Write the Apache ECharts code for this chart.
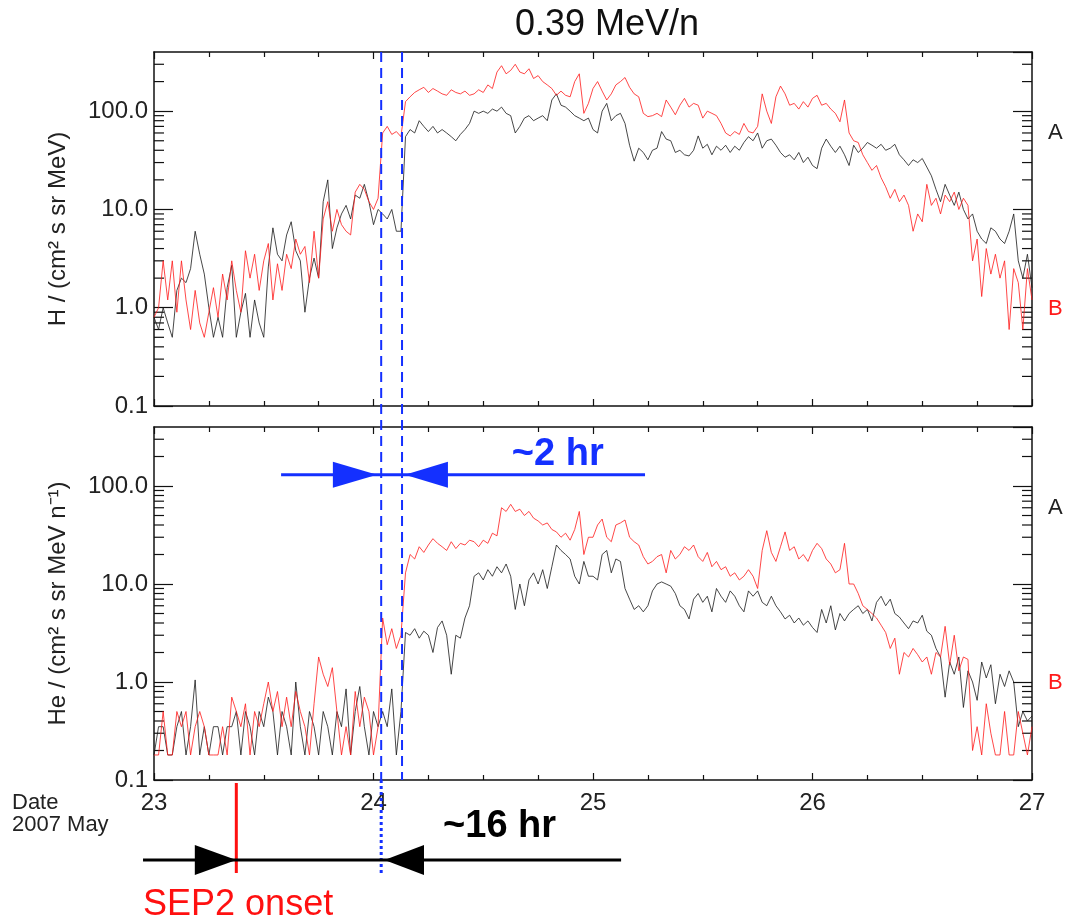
<!DOCTYPE html>
<html>
<head>
<meta charset="utf-8">
<title>0.39 MeV/n</title>
<script src="https://cdn.jsdelivr.net/npm/echarts@6/dist/echarts.min.js"></script>
<style>
  html, body { margin: 0; padding: 0; background: #fff; }
  #main { width: 1065px; height: 920px; }
</style>
</head>
<body>
<div id="main"></div>
<script>
var FONT = '"Liberation Sans", Arial, sans-serif';

// hours since 2007 May 23 00:00 (half-hour samples)
var hours = [
  0, 0.5, 1, 1.5, 2, 2.5, 3, 3.5, 4, 4.5, 5, 5.5,
  6, 6.5, 7, 7.5, 8, 8.5, 9, 9.5, 10, 10.5, 11, 11.5,
  12, 12.5, 13, 13.5, 14, 14.5, 15, 15.5, 16, 16.5, 17, 17.5,
  18, 18.5, 19, 19.5, 20, 20.5, 21, 21.5, 22, 22.5, 23, 23.5,
  24, 24.5, 25, 25.5, 26, 26.5, 27, 27.5, 28, 28.5, 29, 29.5,
  30, 30.5, 31, 31.5, 32, 32.5, 33, 33.5, 34, 34.5, 35, 35.5,
  36, 36.5, 37, 37.5, 38, 38.5, 39, 39.5, 40, 40.5, 41, 41.5,
  42, 42.5, 43, 43.5, 44, 44.5, 45, 45.5, 46, 46.5, 47, 47.5,
  48, 48.5, 49, 49.5, 50, 50.5, 51, 51.5, 52, 52.5, 53, 53.5,
  54, 54.5, 55, 55.5, 56, 56.5, 57, 57.5, 58, 58.5, 59, 59.5,
  60, 60.5, 61, 61.5, 62, 62.5, 63, 63.5, 64, 64.5, 65, 65.5,
  66, 66.5, 67, 67.5, 68, 68.5, 69, 69.5, 70, 70.5, 71, 71.5,
  72, 72.5, 73, 73.5, 74, 74.5, 75, 75.5, 76, 76.5, 77, 77.5,
  78, 78.5, 79, 79.5, 80, 80.5, 81, 81.5, 82, 82.5, 83, 83.5,
  84, 84.5, 85, 85.5, 86, 86.5, 87, 87.5, 88, 88.5, 89, 89.5,
  90, 90.5, 91, 91.5, 92, 92.5, 93, 93.5, 94, 94.5, 95, 95.5,
  96
];

// H intensity, spacecraft A (black)
var hA = [
  0.8, 0.6, 1.0, 0.7, 0.5, 1.5, 2.0, 1.8, 2.5, 6.0, 3.5, 2.2,
  1.0, 0.5, 0.8, 0.5, 1.6, 2.7, 0.5, 0.9, 1.4, 0.5, 1.2, 0.7,
  0.5, 2.6, 6.5, 3.5, 3.0, 5.5, 7.5, 3.8, 3.0, 0.9, 2.0, 3.2,
  2.0, 12, 20, 4.0, 6.5, 9.0, 11, 8.0, 14, 13, 18, 12,
  7.0, 10, 9.0, 8.0, 10, 6.0, 6.0, 55, 65, 60, 80, 70,
  62, 70, 60, 65, 60, 55, 50, 58, 65, 75, 100, 95,
  100, 95, 105, 100, 110, 95, 90, 60, 70, 85, 90, 80,
  85, 90, 80, 130, 150, 115, 110, 100, 90, 85, 80, 85,
  65, 60, 100, 120, 80, 90, 95, 75, 45, 31, 42, 38,
  32, 40, 42, 62, 52, 50, 38, 40, 36, 35, 40, 56,
  42, 46, 36, 44, 40, 45, 38, 44, 40, 48, 55, 50,
  60, 42, 50, 52, 45, 38, 34, 36, 32, 38, 30, 34,
  28, 26, 42, 52, 44, 38, 44, 36, 28, 45, 38, 42,
  48, 45, 42, 46, 40, 42, 46, 36, 32, 28, 32, 30,
  33, 27, 22, 16, 12, 18, 14, 11, 15, 10, 8, 9,
  6, 5, 4.5, 6.5, 6, 5, 4.5, 6, 9, 3, 2.0, 3.5,
  1.6
];

// H intensity, spacecraft B (red)
var hB = [
  0.8, 1.0, 3.0, 1.2, 3.0, 0.9, 3.0, 1.2, 0.6, 1.5, 0.7, 0.5,
  0.9, 1.6, 0.8, 2.2, 1.2, 3.0, 1.5, 0.9, 3.8, 2.0, 3.5, 1.5,
  3.0, 4.5, 1.2, 2.8, 1.5, 3.5, 2.5, 5.0, 3.5, 4.2, 1.8, 6.0,
  2.0, 8.0, 12, 6.0, 10, 7.0, 6.0, 5.5, 15, 18, 16, 12,
  10, 13, 60, 70, 58, 62, 55, 125, 140, 155, 165, 175,
  155, 170, 160, 150, 145, 165, 155, 150, 160, 145, 150, 165,
  155, 185, 170, 250, 290, 240, 260, 300, 250, 240, 270, 215,
  230, 200, 185, 170, 145, 160, 145, 140, 200, 240, 95, 120,
  170, 200, 160, 130, 150, 185, 200, 220, 175, 150, 140, 95,
  88, 90, 95, 88, 130, 110, 92, 115, 135, 110, 120, 115,
  85, 100, 95, 90, 75, 60, 56, 62, 58, 75, 62, 60,
  70, 150, 100, 75, 140, 180, 150, 115, 120, 105, 125, 110,
  135, 145, 115, 120, 105, 95, 78, 130, 60, 50, 48, 36,
  30, 25, 28, 21, 17, 13, 16, 12, 14, 11, 6.0, 9,
  7.5, 18, 11, 13, 9, 14, 12, 15, 10, 13, 11, 3.0,
  5.0, 1.3, 4.0, 2.2, 3.5, 2.0, 3.0, 0.6, 2.5, 1.8, 0.6, 2.5,
  1.2
];

// He intensity, spacecraft A (black)
var heA = [
  0.18, 0.35, 0.35, 0.18, 0.18, 0.35, 0.5, 0.18, 0.35, 1.05, 0.18, 0.35,
  0.18, 0.35, 0.35, 0.18, 0.35, 0.35, 0.5, 0.18, 0.5, 0.35, 0.18, 0.5,
  0.35, 0.7, 0.5, 0.18, 0.5, 0.35, 0.18, 1.0, 0.35, 0.18, 0.5, 0.35,
  0.18, 0.5, 0.35, 0.18, 0.5, 0.35, 0.85, 0.18, 0.5, 0.9, 0.35, 0.18,
  0.5, 0.35, 0.5, 0.35, 0.85, 0.18, 0.5, 3.2, 3.0, 3.5, 2.8, 3.3,
  3.0, 2.0, 3.6, 4.2, 3.0, 1.2, 3.0, 2.8, 4.5, 6.0, 12, 13,
  11, 14, 12, 15, 13, 16, 12, 5.5, 10, 6.0, 11, 13,
  10, 14, 9, 15, 25, 22, 20, 18, 12, 10, 17, 12,
  12, 11, 20, 22, 13, 18, 17, 9, 7, 5.5, 6.0, 5.2,
  6.0, 8.5, 10, 10.5, 10, 9.5, 8, 6, 5.5, 4.4, 7.0, 8.0,
  6.5, 7.5, 5.2, 9, 7.5, 6.5, 8.5, 7.5, 6, 5.2, 8.5, 7.5,
  8.5, 6.5, 6.0, 7.5, 6.0, 5.2, 4.4, 4.8, 4.0, 4.5, 3.8, 4.2,
  3.6, 3.2, 5.5, 4.0, 6.0, 3.4, 5.0, 4.2, 5.0, 5.5, 6.0, 5.0,
  5.5, 4.2, 6.5, 7.5, 6.0, 7.0, 5.0, 4.6, 4.0, 3.5, 4.2, 4.0,
  4.8, 3.3, 3.0, 2.2, 1.8, 0.7, 1.6, 1.2, 1.8, 0.55, 1.3, 1.0,
  0.65, 1.6, 1.1, 1.5, 0.6, 1.2, 0.9, 1.3, 1.0, 0.35, 0.5, 0.4,
  0.45
];

// He intensity, spacecraft B (red)
var heB = [
  0.18, 0.18, 0.5, 0.18, 0.18, 0.5, 0.35, 0.5, 0.18, 0.35, 0.5, 0.35,
  0.18, 0.18, 0.18, 0.35, 0.18, 0.7, 0.5, 0.35, 0.6, 0.18, 0.5, 0.35,
  0.6, 1.0, 0.5, 0.8, 0.35, 0.7, 0.35, 0.8, 0.5, 0.35, 0.18, 0.6,
  1.8, 1.2, 0.9, 1.4, 0.5, 0.18, 0.35, 0.18, 0.8, 0.35, 0.7, 0.5,
  0.18, 0.35, 4.5, 2.4, 3.5, 2.2, 3.0, 13, 20, 18, 24, 21,
  25, 29, 26, 24, 22, 27, 23, 26, 25, 28, 27, 24,
  28, 26, 33, 31, 60, 55, 65, 55, 58, 50, 55, 47,
  44, 40, 42, 36, 34, 30, 33, 28, 36, 55, 20, 30,
  30, 40, 46, 30, 27, 40, 42, 45, 30, 27, 25, 19,
  16, 17, 19, 20, 13, 22, 18, 20, 24, 22, 25, 19,
  17, 21, 15, 17, 14, 15, 12, 13, 11, 12, 14, 12,
  9, 22, 35, 21, 17, 24, 34, 22, 24, 18, 20, 17,
  22, 26, 23, 18, 16, 13, 14, 26, 10, 10, 8, 6,
  5.5, 5, 4.5, 3.8, 3.2, 2.2, 2.8, 1.2, 2.0, 1.8, 2.2, 1.9,
  1.6, 1.8, 1.2, 2.0, 1.8, 3.7, 1.5, 3.0, 1.3, 1.8, 1.7, 0.2,
  0.35, 0.18, 0.6, 0.3, 0.18, 0.18, 0.5, 0.18, 0.18, 0.5, 0.3, 0.18,
  0.35
];

var xTickLabels = ['23', '24', '25', '26', '27'];
var yTickLabels = ['0.1', '1.0', '10.0', '100.0'];
var minorTickValues = [0.2, 0.3, 0.4, 0.5, 0.6, 0.7, 0.8, 0.9,
  2, 3, 4, 5, 6, 7, 8, 9, 20, 30, 40, 50, 60, 70, 80, 90, 200, 300];

var dayStart = 23, dayEnd = 27;
var yMin = 0.1, yMax = 400;

// event times in days of May
var onsetB = 24.035;    // first blue dashed line
var onsetA = 24.13;     // second blue dashed line
var sep2Onset = 23.375; // red line below the axis

function toPairs(vals) {
  return vals.map(function (v, i) { return [dayStart + hours[i] / 24, v]; });
}

function isDecade(v) {
  var e = Math.log10(v);
  return Math.abs(e - Math.round(e)) < 1e-6;
}

function xAxisFor(grid, pos, showLabels) {
  return {
    type: 'value', gridIndex: grid, position: pos,
    min: dayStart, max: dayEnd, interval: 1,
    axisLine: { show: true, onZero: false, lineStyle: { color: '#111', width: 1.5 } },
    axisTick: { show: true, inside: true, length: 7, lineStyle: { color: '#111', width: 1.2 } },
    minorTick: { show: true, splitNumber: 4, length: 5, lineStyle: { color: '#111', width: 1.2 } },
    splitLine: { show: false },
    minorSplitLine: { show: false },
    axisLabel: {
      show: showLabels, margin: 11, fontSize: 24, color: '#222', fontFamily: FONT,
      showMinLabel: true, showMaxLabel: true,
      formatter: function (v) { return xTickLabels[Math.round(v - dayStart)]; }
    }
  };
}

function yAxisFor(grid, pos, name) {
  return {
    type: 'log', logBase: 10, gridIndex: grid, position: pos,
    min: yMin, max: yMax,
    name: name || '', nameLocation: 'middle', nameGap: 84,
    nameTextStyle: { fontSize: 24, color: '#222', fontFamily: FONT },
    axisLine: { show: true, onZero: false, lineStyle: { color: '#111', width: 1.5 } },
    axisTick: { show: true, inside: true, length: 19, lineStyle: { color: '#111', width: 1.2 } },
    splitLine: { show: false },
    axisLabel: {
      show: !!name, margin: 6, fontSize: 24, color: '#222', fontFamily: FONT,
      showMinLabel: true, showMaxLabel: false,
      formatter: function (v) {
        if (!isDecade(v)) return '';
        return yTickLabels[Math.round(Math.log10(v)) + 1] || '';
      }
    }
  };
}

// short log minor ticks on the left and right frame
function minorTicks(params, api) {
  var v = api.value(1);
  var l = api.coord([dayStart, v]);
  var r = api.coord([dayEnd, v]);
  var st = { stroke: '#111', lineWidth: 1.2 };
  return {
    type: 'group',
    children: [
      { type: 'line', shape: { x1: l[0], y1: l[1], x2: l[0] + 10, y2: l[1] }, style: st },
      { type: 'line', shape: { x1: r[0] - 10, y1: r[1], x2: r[0], y2: r[1] }, style: st }
    ]
  };
}

function lineSeries(xi, vals, color) {
  return {
    type: 'line', xAxisIndex: xi, yAxisIndex: xi, data: toPairs(vals),
    showSymbol: false, symbol: 'none', silent: true, clip: true,
    color: color, lineStyle: { color: color, width: 1, opacity: 0.8 }
  };
}

function tickSeries(xi) {
  return {
    type: 'custom', xAxisIndex: xi, yAxisIndex: xi, silent: true, clip: false,
    data: minorTickValues.map(function (v) { return [dayStart, v]; }),
    renderItem: minorTicks
  };
}

var chart = echarts.init(document.getElementById('main'));

var option = {
  animation: false,
  backgroundColor: '#fff',
  grid: [
    { left: 154, top: 52, width: 878, height: 354, containLabel: false, outerBoundsMode: 'none' },
    { left: 154, top: 427, width: 878, height: 353, containLabel: false, outerBoundsMode: 'none' }
  ],
  xAxis: [
    xAxisFor(0, 'bottom', false),
    xAxisFor(0, 'top', false),
    xAxisFor(1, 'bottom', true),
    xAxisFor(1, 'top', false)
  ],
  yAxis: [
    yAxisFor(0, 'left', 'H / (cm\u00b2 s sr MeV)'),
    yAxisFor(0, 'right', ''),
    yAxisFor(1, 'left', 'He / (cm\u00b2 s sr MeV n\u207b\u00b9)'),
    yAxisFor(1, 'right', '')
  ],
  series: [
    tickSeries(0),
    tickSeries(2),
    lineSeries(0, hA, '#1a1a1a'),
    lineSeries(0, hB, '#ff1a1a'),
    lineSeries(2, heA, '#1a1a1a'),
    lineSeries(2, heB, '#ff1a1a')
  ]
};

chart.setOption(option);

// annotations placed through the axes
function pt(panel, day, val) {
  var i = panel === 0 ? 0 : 2;
  return chart.convertToPixel({ xAxisIndex: i, yAxisIndex: i }, [day, val]);
}

function arrowHead(tipX, baseX, y, half, color) {
  return {
    type: 'polygon', z: 100,
    shape: { points: [[tipX, y], [baseX, y - half], [baseX, y + half]] },
    style: { fill: color }
  };
}

function hLine(x1, x2, y, color, w, dash) {
  return {
    type: 'line', z: 100,
    shape: { x1: x1, y1: y, x2: x2, y2: y },
    style: { stroke: color, lineWidth: w, lineDash: dash || null }
  };
}

function vLine(x, y1, y2, color, w, dash) {
  return {
    type: 'line', z: 100,
    shape: { x1: x, y1: y1, x2: x, y2: y2 },
    style: { stroke: color, lineWidth: w, lineDash: dash || null }
  };
}

function label(x, y, text, size, color, weight, align) {
  return {
    type: 'text', z: 100, x: x, y: y,
    style: {
      text: text, fontSize: size, fontFamily: FONT, fontWeight: weight || 'normal',
      fill: color, align: align || 'left', verticalAlign: 'middle'
    }
  };
}

var BLUE = '#1430ff';
var topY = pt(0, dayStart, yMax)[1];
var axisY = pt(1, dayStart, yMin)[1];
var gfx = [];

// title
gfx.push(label(607, 25, '0.39 MeV/n', 36, '#111', 'normal', 'center'));

// blue dashed onset lines through both panels
[onsetB, onsetA].forEach(function (t) {
  var x = pt(0, t, yMax)[0];
  gfx.push(vLine(x, topY, axisY, BLUE, 2, [10, 6]));
});

// ~2 hr arrow inside the He panel
var ay = pt(1, 24, 130)[1];
gfx.push(hLine(pt(1, 23.579, 1)[0], pt(1, 25.237, 1)[0], ay, BLUE, 3));
gfx.push(arrowHead(pt(1, 24.016, 1)[0], pt(1, 23.815, 1)[0], ay, 13, BLUE));
gfx.push(arrowHead(pt(1, 24.143, 1)[0], pt(1, 24.339, 1)[0], ay, 13, BLUE));
gfx.push(label(pt(1, 24.63, 1)[0], pt(1, 24.63, 210)[1], '~2 hr', 38, BLUE, 'bold'));

// below the time axis: SEP2 onset and ~16 hr
var by = axisY + 80;
gfx.push(vLine(pt(1, sep2Onset, 1)[0], axisY + 3, axisY + 93, '#ff1010', 3));
gfx.push(vLine(pt(1, onsetB, 1)[0], axisY, axisY + 95, BLUE, 3, [3, 3]));
gfx.push(hLine(pt(1, 22.95, 1)[0], pt(1, 25.128, 1)[0], by, '#000', 3));
gfx.push(arrowHead(pt(1, sep2Onset, 1)[0], pt(1, 23.186, 1)[0], by, 15, '#000'));
gfx.push(arrowHead(pt(1, 24.05, 1)[0], pt(1, 24.23, 1)[0], by, 15, '#000'));
gfx.push(label(pt(1, 24.317, 1)[0], axisY + 47, '~16 hr', 38, '#000', 'bold'));
gfx.push(label(pt(1, 22.95, 1)[0], axisY + 125, 'SEP2 onset', 36, '#ff1010'));

// date caption
gfx.push(label(12, axisY + 23, 'Date', 22, '#222'));
gfx.push(label(12, axisY + 45, '2007 May', 22, '#222'));

// spacecraft labels at the right
[0, 1].forEach(function (p) {
  var a = pt(p, dayEnd, 60), b = pt(p, dayEnd, 0.97);
  gfx.push(label(a[0] + 16, a[1], 'A', 22, '#222'));
  gfx.push(label(b[0] + 16, b[1], 'B', 22, '#ff1a1a'));
});

chart.setOption({ graphic: gfx });
</script>
</body>
</html>
